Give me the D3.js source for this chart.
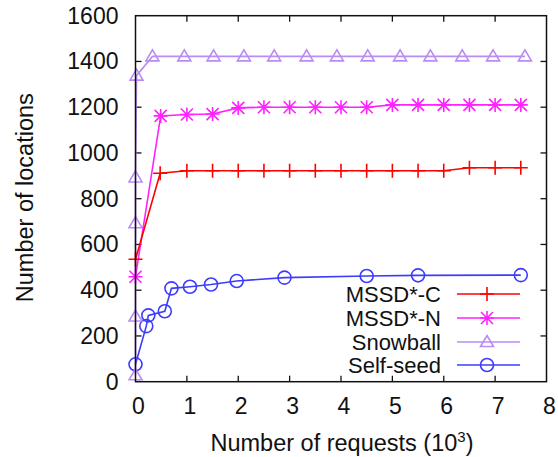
<!DOCTYPE html>
<html>
<head>
<meta charset="utf-8">
<script src="https://cdn.jsdelivr.net/npm/d3@7"></script>
<style>
  body { margin: 0; background: #fff; }
  text { font-family: "Liberation Sans", Arial, sans-serif; fill: #111; }
</style>
</head>
<body>
<div id="chart"></div>
<script>
// data (x in thousands of requests)
const xTicks = [0, 1, 2, 3, 4, 5, 6, 7, 8];
const yTicks = [0, 200, 400, 600, 800, 1000, 1200, 1400, 1600];

const mssdCX = [0, 0.48, 1.0, 1.5, 2.0, 2.5, 3.0, 3.5, 4.0, 4.5, 5.0, 5.5, 6.0, 6.5, 7.0, 7.5];
const mssdCY = [535, 911, 922, 922, 922, 922, 922, 922, 922, 922, 922, 922, 922, 935, 935, 935];

const mssdNX = [0, 0.49, 1.0, 1.5, 2.0, 2.5, 3.0, 3.5, 4.0, 4.5, 5.0, 5.5, 6.0, 6.5, 7.0, 7.5];
const mssdNY = [459, 1162, 1168, 1170, 1197, 1200, 1200, 1200, 1200, 1200, 1210, 1210, 1210, 1210, 1210, 1210];

const snowX = [0, 0, 0, 0, 0.02, 0.33, 0.95, 1.52, 2.11, 2.70, 3.33, 3.92, 4.52, 5.15, 5.74, 6.36, 6.96, 7.58];
const snowY = [28, 285, 693, 893, 1338, 1422, 1422, 1422, 1422, 1422, 1422, 1422, 1422, 1422, 1422, 1422, 1422, 1422];

const selfX = [0, 0.21, 0.25, 0.57, 0.70, 1.06, 1.47, 1.97, 2.9, 4.5, 5.5, 7.5];
const selfY = [76, 243, 290, 308, 408, 415, 425, 440, 455, 462, 465, 466];

const seriesNames = ["MSSD*-C", "MSSD*-N", "Snowball", "Self-seed"];
const seriesColors = ["#ff0000", "#ff22ff", "#b98cf5", "#3c3cff"];
const seriesShapes = ["plus", "star", "triangle", "circle"];

const width = 558, height = 457;
const margin = {left: 135.5, right: 11.5, top: 15.7, bottom: 75.3};

const svg = d3.select("#chart").append("svg")
    .attr("width", width)
    .attr("height", height);

svg.append("rect").attr("width", width).attr("height", height).attr("fill", "white");

const x = d3.scaleLinear().domain([0, 8]).range([margin.left, width - margin.right]);
const y = d3.scaleLinear().domain([0, 1600]).range([height - margin.bottom, margin.top]);

// draw a marker at (cx, cy)
function drawMarker(g, shape, cx, cy, color) {
    if (shape === "plus") {
        g.append("path")
            .attr("d", `M${cx - 7},${cy}H${cx + 7}M${cx},${cy - 7}V${cy + 7}`)
            .attr("stroke", color).attr("stroke-width", 1.6).attr("fill", "none");
    } else if (shape === "star") {
        const s = 6;
        g.append("path")
            .attr("d", `M${cx - s - 1},${cy}H${cx + s + 1}M${cx},${cy - s - 1}V${cy + s + 1}` +
                       `M${cx - s},${cy - s}L${cx + s},${cy + s}M${cx - s},${cy + s}L${cx + s},${cy - s}`)
            .attr("stroke", color).attr("stroke-width", 1.6).attr("fill", "none");
    } else if (shape === "triangle") {
        g.append("path")
            .attr("d", `M${cx - 6.5},${cy + 4.5}L${cx},${cy - 6.5}L${cx + 6.5},${cy + 4.5}Z`)
            .attr("stroke", color).attr("stroke-width", 1.6).attr("fill", "none");
    } else {
        g.append("circle")
            .attr("cx", cx).attr("cy", cy).attr("r", 6.5)
            .attr("stroke", color).attr("stroke-width", 1.6).attr("fill", "none");
    }
}

// ticks (inward, mirrored on top and right)
const tickG = svg.append("g").attr("stroke", "#111").attr("stroke-width", 1.3);
xTicks.forEach(t => {
    if (t === 0 || t === 8) return;
    tickG.append("line").attr("x1", x(t)).attr("x2", x(t)).attr("y1", y(0)).attr("y2", y(0) - 6);
    tickG.append("line").attr("x1", x(t)).attr("x2", x(t)).attr("y1", y(1600)).attr("y2", y(1600) + 6);
});
yTicks.forEach(t => {
    if (t === 0 || t === 1600) return;
    tickG.append("line").attr("x1", x(0)).attr("x2", x(0) + 6).attr("y1", y(t)).attr("y2", y(t));
    tickG.append("line").attr("x1", x(8)).attr("x2", x(8) - 6).attr("y1", y(t)).attr("y2", y(t));
});

// tick labels
svg.append("g").selectAll("text").data(xTicks).join("text")
    .attr("x", d => x(d) + 3)
    .attr("y", y(0) + 32)
    .attr("text-anchor", "middle")
    .attr("font-size", "23px")
    .text(d => d);

svg.append("g").selectAll("text").data(yTicks).join("text")
    .attr("x", x(0) - 17)
    .attr("y", d => y(d) + 8)
    .attr("text-anchor", "end")
    .attr("font-size", "23px")
    .text(d => d);

// axis titles
const xTitle = svg.append("text")
    .attr("x", 342)
    .attr("y", 451)
    .attr("text-anchor", "middle")
    .attr("font-size", "23.5px");
xTitle.append("tspan").text("Number of requests (10");
xTitle.append("tspan").attr("dy", -9).attr("font-size", "15px").text("3");
xTitle.append("tspan").attr("dy", 9).text(")");

svg.append("text")
    .attr("transform", `translate(33,${(y(0) + y(1600)) / 2 - 1}) rotate(-90)`)
    .attr("text-anchor", "middle")
    .attr("font-size", "23.5px")
    .text("Number of locations");

// series
const allX = [mssdCX, mssdNX, snowX, selfX];
const allY = [mssdCY, mssdNY, snowY, selfY];
const line = d3.line().x(d => x(d[0])).y(d => y(d[1]));

// draw in reverse so MSSD*-C ends up on top
for (let i = 3; i >= 0; i--) {
    const pts = allX[i].map((v, k) => [v, allY[i][k]]);
    const g = svg.append("g");
    g.append("path")
        .attr("d", line(pts))
        .attr("fill", "none")
        .attr("stroke", seriesColors[i])
        .attr("stroke-width", 1.6);
    pts.forEach(p => drawMarker(g, seriesShapes[i], x(p[0]), y(p[1]), seriesColors[i]));
}

// legend
const legendRowY = [294, 318, 342, 365];
seriesNames.forEach((name, i) => {
    const ly = legendRowY[i];
    svg.append("text")
        .attr("x", 441)
        .attr("y", ly + 8)
        .attr("text-anchor", "end")
        .attr("font-size", "22px")
        .text(name);
    svg.append("line")
        .attr("x1", 457).attr("x2", 520)
        .attr("y1", ly).attr("y2", ly)
        .attr("stroke", seriesColors[i]).attr("stroke-width", 1.6);
    drawMarker(svg, seriesShapes[i], 487, ly, seriesColors[i]);
});

// frame
svg.append("rect")
    .attr("x", x(0)).attr("y", y(1600))
    .attr("width", x(8) - x(0)).attr("height", y(0) - y(1600))
    .attr("fill", "none").attr("stroke", "#111").attr("stroke-width", 1.5);
</script>
</body>
</html>
